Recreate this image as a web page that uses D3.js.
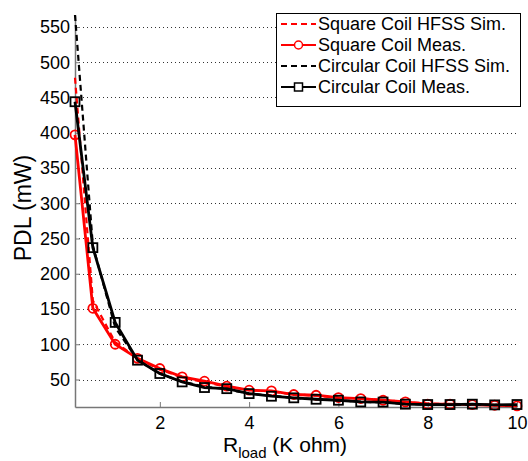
<!DOCTYPE html>
<html>
<head>
<meta charset="utf-8">
<script src="https://cdn.jsdelivr.net/npm/d3@7"></script>
<style>
  body { margin: 0; background: #fff; }
  svg { display: block; font-family: "Liberation Sans", Arial, sans-serif; }
</style>
</head>
<body>
<svg id="chart" width="528" height="461"></svg>
<script>
// load resistance (K ohm)
let rLoad = [0.1, 0.5, 1, 1.5, 2, 2.5, 3, 3.5, 4, 4.5, 5, 5.5, 6, 6.5, 7, 7.5, 8, 8.5, 9, 9.5, 10];

// PDL (mW)
let squareSim  = [478, 162, 103, 80, 64, 53, 46, 40, 35, 33, 29, 27, 24, 23, 21, 18, 16, 15, 14.5, 13.5, 12.5];
let squareMeas = [397, 151, 100, 80, 65.6, 53.7, 47.6, 40.5, 34.8, 33.8, 28.7, 27.7, 24.4, 23, 20.6, 18.2, 15, 15, 14.5, 13.5, 12.5];
let circSim    = [567, 240, 124, 78, 58, 47, 40, 36, 30, 27, 24, 22, 20.5, 18.5, 17.5, 15.5, 14.5, 14.2, 14.5, 14, 13.5];
let circMeas   = [444, 237, 131, 77.4, 58.5, 46.6, 38.6, 37, 30, 26.3, 24, 22, 20.6, 18.2, 18, 15, 14.5, 14.5, 15, 14, 14.5];

let yTicks = [50, 100, 150, 200, 250, 300, 350, 400, 450, 500, 550];
let xTicks = [2, 4, 6, 8, 10];

let series = [
    {name: "Square Coil HFSS Sim.", values: squareSim, color: "#ff0000", dash: "6,4", marker: null},
    {name: "Square Coil Meas.", values: squareMeas, color: "#ff0000", dash: null, marker: "circle"},
    {name: "Circular Coil HFSS Sim.", values: circSim, color: "#000000", dash: "6,4", marker: null},
    {name: "Circular Coil Meas.", values: circMeas, color: "#000000", dash: null, marker: "square"}
];

let svg = d3.select("#chart");
let padLeft = 75, padRight = 517, padTop = 15, padBottom = 407;

let x = d3.scaleLinear().domain([0.1, 10]).range([padLeft, padRight]);
let y = d3.scaleLinear().domain([11, 567]).range([padBottom, padTop]);

// dotted grid
svg.append("g")
    .selectAll("line")
    .data(yTicks)
    .enter()
    .append("line")
    .attr("x1", padLeft)
    .attr("x2", padRight)
    .attr("y1", function (d) { return Math.round(y(d)) + 0.5; })
    .attr("y2", function (d) { return Math.round(y(d)) + 0.5; })
    .attr("stroke", "#333")
    .attr("stroke-width", 1)
    .attr("stroke-dasharray", "1,3");

// axes
let xAxis = d3.axisBottom(x).tickValues(xTicks).tickSizeInner(-5).tickSizeOuter(0).tickPadding(9);
let yAxis = d3.axisLeft(y).tickValues(yTicks).tickSizeInner(-5).tickSizeOuter(0).tickPadding(5);

let gx = svg.append("g").attr("transform", "translate(0," + padBottom + ")").call(xAxis);
let gy = svg.append("g").attr("transform", "translate(" + padLeft + ",0)").call(yAxis);
[gx, gy].forEach(function (g) {
    g.select(".domain").attr("stroke", "#777").attr("stroke-width", 1.5);
    g.selectAll(".tick line").attr("stroke", "#777");
    g.selectAll(".tick text").attr("font-size", 18).attr("fill", "#000")
        .attr("font-family", "Liberation Sans, Arial, sans-serif");
});

// lines
let line = d3.line()
    .x(function (d, i) { return x(rLoad[i]); })
    .y(function (d) { return y(d); });

let plot = svg.append("g");
series.forEach(function (s) {
    plot.append("path")
        .attr("d", line(s.values))
        .attr("fill", "none")
        .attr("stroke", s.color)
        .attr("stroke-width", s.dash ? 2.2 : 2.8)
        .attr("stroke-dasharray", s.dash);
    if (s.marker === "circle") {
        plot.selectAll(null)
            .data(s.values)
            .enter()
            .append("circle")
            .attr("cx", function (d, i) { return x(rLoad[i]); })
            .attr("cy", function (d) { return y(d); })
            .attr("r", 4.5)
            .attr("fill", "none")
            .attr("stroke", s.color)
            .attr("stroke-width", 1.8);
    } else if (s.marker === "square") {
        plot.selectAll(null)
            .data(s.values)
            .enter()
            .append("rect")
            .attr("x", function (d, i) { return x(rLoad[i]) - 4.5; })
            .attr("y", function (d) { return y(d) - 4.5; })
            .attr("width", 9)
            .attr("height", 9)
            .attr("fill", "none")
            .attr("stroke", s.color)
            .attr("stroke-width", 1.8);
    }
});

// axis labels
svg.append("text")
    .attr("transform", "translate(31,208) rotate(-90)")
    .attr("text-anchor", "middle")
    .attr("font-size", 23)
    .text("PDL (mW)");

let xl = svg.append("text")
    .attr("x", 223)
    .attr("y", 452)
    .attr("font-size", 21);
xl.append("tspan").text("R");
xl.append("tspan").attr("font-size", 15).attr("dy", 6).text("load");
xl.append("tspan").attr("dy", -6).text(" (K ohm)");

// legend
let legend = svg.append("g");
legend.append("rect")
    .attr("x", 276.5).attr("y", 13.5)
    .attr("width", 244).attr("height", 93)
    .attr("fill", "#fff").attr("stroke", "#000").attr("stroke-width", 1);

series.forEach(function (s, i) {
    let cy = 24 + i * 21;
    let row = legend.append("g");
    row.append("line")
        .attr("x1", 281).attr("x2", 316)
        .attr("y1", cy).attr("y2", cy)
        .attr("stroke", s.color)
        .attr("stroke-width", 1.8)
        .attr("stroke-dasharray", s.dash);
    if (s.marker === "circle") {
        row.append("circle").attr("cx", 298.5).attr("cy", cy).attr("r", 4)
            .attr("fill", "#fff").attr("stroke", s.color).attr("stroke-width", 1.5);
    } else if (s.marker === "square") {
        row.append("rect").attr("x", 294.5).attr("y", cy - 4).attr("width", 8).attr("height", 8)
            .attr("fill", "#fff").attr("stroke", s.color).attr("stroke-width", 1.5);
    }
    row.append("text")
        .attr("x", 318).attr("y", cy + 6)
        .attr("font-size", 18)
        .text(s.name);
});
</script>
</body>
</html>
